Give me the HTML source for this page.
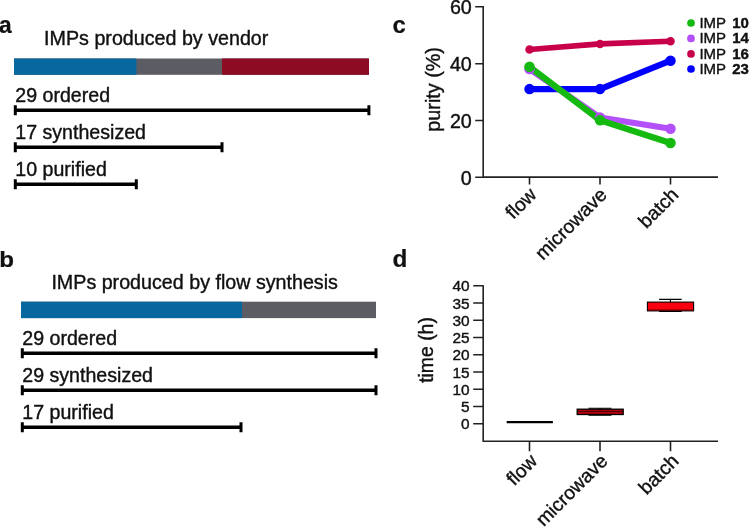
<!DOCTYPE html>
<html>
<head>
<meta charset="utf-8">
<title>Figure</title>
<style>
html,body{margin:0;padding:0;background:#fff;}
body{width:749px;height:528px;overflow:hidden;}
svg{display:block;}
text{font-family:"Liberation Sans",Arial,Helvetica,sans-serif;fill:#111;stroke:#111;stroke-width:0.4px;}
.lbl{font-weight:bold;font-size:23.5px;stroke-width:0.2px;}
.t18{font-size:19.8px;}
.t18b{font-size:19.7px;}
.ax{stroke:#222;stroke-width:1.6;fill:none;}
.bk{stroke:#000;fill:none;}
</style>
</head>
<body>
<svg width="749" height="528" viewBox="0 0 749 528">
<rect x="0" y="0" width="749" height="528" fill="#ffffff"/>

<!-- panel a -->
<g id="pa">
<text class="lbl" transform="translate(-0.9,32.7) scale(0.97,1)">a</text>
<text class="t18" transform="translate(44.1,45.2) scale(0.9945,1)">IMPs produced by vendor</text>
<rect x="14" y="58.5" width="355" height="16.3" fill="#5c5d64"/>
<rect x="14" y="58.5" width="122.4" height="16.3" fill="#07679f"/>
<rect x="222" y="58.5" width="147" height="16.3" fill="#8e0b24"/>
<text class="t18" transform="translate(15.3,101.6) scale(0.99,1)">29 ordered</text>
<path class="bk" stroke-width="3.4" d="M15 110.2H369"/>
<path class="bk" stroke-width="3" d="M15.3 105.2V115.2M368.9 105.2V115.2"/>
<text class="t18" transform="translate(15.3,138.6) scale(0.99,1)">17 synthesized</text>
<path class="bk" stroke-width="3.4" d="M15 147.2H222"/>
<path class="bk" stroke-width="3" d="M15.3 142.2V152.2M222 142.2V152.2"/>
<text class="t18" transform="translate(15.3,175.6) scale(0.99,1)">10 purified</text>
<path class="bk" stroke-width="3.4" d="M15 184.2H136.3"/>
<path class="bk" stroke-width="3" d="M15.3 179.2V189.2M136.3 179.2V189.2"/>
</g>

<!-- panel b -->
<g id="pb">
<text class="lbl" transform="translate(-0.8,266.5) scale(1.06,1)" style="font-size:22.8px">b</text>
<text class="t18" transform="translate(51.4,289.1) scale(0.994,1)">IMPs produced by flow synthesis</text>
<rect x="21" y="301.7" width="355" height="16.4" fill="#5c5d64"/>
<rect x="21" y="301.7" width="221" height="16.4" fill="#07679f"/>
<text class="t18" transform="translate(22.3,344.6) scale(0.99,1)">29 ordered</text>
<path class="bk" stroke-width="3.4" d="M22 353.2H376"/>
<path class="bk" stroke-width="3" d="M22.3 348.2V358.2M376 348.2V358.2"/>
<text class="t18" transform="translate(22.3,381.6) scale(0.99,1)">29 synthesized</text>
<path class="bk" stroke-width="3.4" d="M22 390.2H376"/>
<path class="bk" stroke-width="3" d="M22.3 385.2V395.2M376 385.2V395.2"/>
<text class="t18" transform="translate(22.3,418.6) scale(0.99,1)">17 purified</text>
<path class="bk" stroke-width="3.4" d="M22 427.2H241"/>
<path class="bk" stroke-width="3" d="M22.3 422.2V432.2M241 422.2V432.2"/>
</g>

<!-- panel c -->
<g id="pc">
<text class="lbl" transform="translate(392.6,32.7) scale(1.02,1)">c</text>
<path class="ax" d="M483.2 5.9V177.1H718"/>
<path class="ax" d="M475.2 6.8H483.2M475.2 63.8H483.2M475.2 120.5H483.2M475.2 177.2H483.2"/>
<path class="ax" d="M529.5 177.1V184.6M600 177.1V184.6M670.5 177.1V184.6"/>
<g class="t18b" text-anchor="end">
<text x="471.8" y="14.4">60</text>
<text x="471.8" y="70.9">40</text>
<text x="471.8" y="127.7">20</text>
<text x="471.8" y="184.5">0</text>
</g>
<text font-size="19.8" text-anchor="middle" transform="translate(439.8,89.4) rotate(-90)">purity (%)</text>
<g font-size="19.3" text-anchor="end">
<text transform="translate(537.6,195.8) rotate(-45)">flow</text>
<text transform="translate(608.1,195.8) rotate(-45)">microwave</text>
<text transform="translate(679.6,195.8) rotate(-45)">batch</text>
</g>
<!-- data -->
<g fill="none" stroke-width="6.2" stroke-linejoin="round" stroke-linecap="round">
<polyline stroke="#0000ff" points="529.5,89.1 600,89.1 670.5,60.7"/>
<polyline stroke="#c8004b" stroke-width="5.6" points="529.5,49.5 600,43.9 670.5,41.2"/>
<polyline stroke="#b450fa" points="529.5,69 600,117.5 670.5,128.8"/>
<polyline stroke="#14ba10" points="529.5,66.8 600,120.3 670.5,143"/>
</g>
<g>
<g fill="#0000ff"><circle cx="529.5" cy="89.1" r="5.25"/><circle cx="600" cy="89.1" r="5.25"/><circle cx="670.5" cy="60.7" r="5.25"/></g>
<g fill="#c8004b"><circle cx="529.5" cy="49.5" r="4.25"/><circle cx="600" cy="43.9" r="4.25"/><circle cx="670.5" cy="41.2" r="4.25"/></g>
<g fill="#b450fa"><circle cx="529.5" cy="69" r="5.25"/><circle cx="600" cy="117.5" r="5.25"/><circle cx="670.5" cy="128.8" r="5.25"/></g>
<g fill="#14ba10"><circle cx="529.5" cy="66.8" r="5.25"/><circle cx="600" cy="120.3" r="5.25"/><circle cx="670.5" cy="143" r="5.25"/></g>
</g>
<!-- legend -->
<g font-size="15">
<circle cx="691" cy="23" r="3.85" fill="#14ba10"/>
<text x="699.4" y="27.9">IMP <tspan font-weight="bold" dx="2.2">10</tspan></text>
<circle cx="691" cy="38.4" r="3.85" fill="#b450fa"/>
<text x="699.4" y="43.2">IMP <tspan font-weight="bold" dx="2.2">14</tspan></text>
<circle cx="691" cy="53.9" r="3.85" fill="#c8004b"/>
<text x="699.4" y="58.6">IMP <tspan font-weight="bold" dx="2.2">16</tspan></text>
<circle cx="691" cy="69" r="3.85" fill="#0000ff"/>
<text x="699.4" y="73.9">IMP <tspan font-weight="bold" dx="2.2">23</tspan></text>
</g>
</g>

<!-- panel d -->
<g id="pd">
<text class="lbl" transform="translate(392.6,266.5) scale(1.035,1)">d</text>
<path class="ax" d="M483.2 285.2V441.2H718"/>
<path class="ax" d="M473.2 285.7H483.2M473.2 303H483.2M473.2 320.2H483.2M473.2 337.5H483.2M473.2 354.7H483.2M473.2 372H483.2M473.2 389.2H483.2M473.2 406.5H483.2M473.2 423.7H483.2"/>
<path class="ax" d="M529.5 441.2V451.2M600 441.2V451.2M670.5 441.2V451.2"/>
<g font-size="15.4" text-anchor="end">
<text x="469.5" y="291.2">40</text>
<text x="469.5" y="308.5">35</text>
<text x="469.5" y="325.7">30</text>
<text x="469.5" y="343">25</text>
<text x="469.5" y="360.2">20</text>
<text x="469.5" y="377.5">15</text>
<text x="469.5" y="394.7">10</text>
<text x="469.5" y="412">5</text>
<text x="469.5" y="429.2">0</text>
</g>
<text font-size="19.4" text-anchor="middle" transform="translate(432.7,350) rotate(-90)">time (h)</text>
<g font-size="19.3" text-anchor="end">
<text transform="translate(538.4,462.2) rotate(-45)">flow</text>
<text transform="translate(608.9,462.2) rotate(-45)">microwave</text>
<text transform="translate(679.9,462.2) rotate(-45)">batch</text>
</g>
<!-- boxes -->
<path d="M506.7 422.1H552.9" stroke="#000" stroke-width="2.3" fill="none"/>
<g stroke="#000" stroke-width="1.1" fill="none">
<path d="M588.5 408.2H611.4M588.5 415.3H611.4M600 408.2V415.3"/>
<rect x="577.2" y="409.2" width="46" height="5.3" fill="#b8000c" stroke-width="1.3"/>
<path d="M577.2 411.4H623.2" stroke="#400" stroke-width="1"/>
<path d="M659.1 299.4H681.7M659.1 311.4H681.7M670.4 299.4V311.2"/>
<rect x="647.4" y="302.1" width="46.2" height="8.8" fill="#f8000f"/>
<path d="M647.4 309.9H693.6" stroke="#700" stroke-width="1"/>
</g>
</g>
</svg>
</body>
</html>
